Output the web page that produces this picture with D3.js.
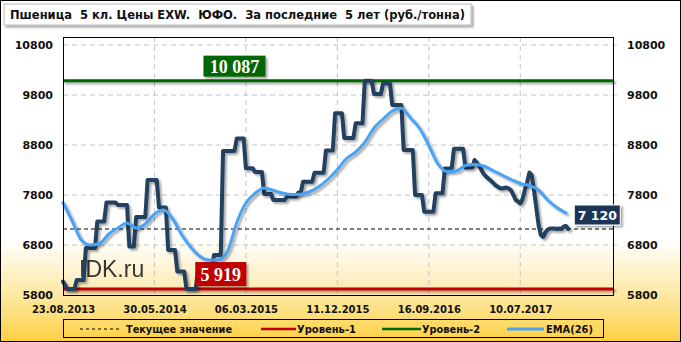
<!DOCTYPE html>
<html><head><meta charset="utf-8">
<script src="https://cdn.jsdelivr.net/npm/d3@7"></script>
<style>html,body{margin:0;padding:0;background:#fff;}svg{display:block;}</style>
</head><body>
<svg id="c" width="681" height="342"></svg>
<script>
const title = "Пшеница  5 кл. Цены EXW.  ЮФО.  За последние  5 лет (руб./тонна)";
const xTickIndex = [0, 40, 80, 120, 160, 200];
const xTickLabels = ["23.08.2013", "30.05.2014", "06.03.2015", "11.12.2015", "16.09.2016", "10.07.2017"];
const yTicks = [5800, 6800, 7800, 8800, 9800, 10800];
// weekly prices (руб./тонна)
const price = [
 6070,5990,5919,5919,5919,5919,6100,6100,6100,6100,
 6740,6740,6740,6740,6740,7270,7270,7270,7270,7650,
 7650,7650,7650,7650,7600,7600,7600,7600,7600,6770,
 6770,6770,7360,7360,7360,7360,7360,8100,8100,8100,
 8100,8100,7550,7550,7550,7550,6700,6700,6700,6700,
 6270,6270,6270,6270,5919,5919,5919,5919,5919,6270,
 6270,6270,6270,6270,6270,6270,6600,6600,6600,6600,
 8680,8680,8680,8680,8680,8680,8930,8930,8930,8930,
 8333,8333,8333,8333,8260,8260,8260,8260,7820,7820,
 7820,7820,7700,7700,7700,7700,7700,7700,7770,7770,
 7770,7770,7770,7850,7850,8067,8067,8067,8067,8067,
 8247,8247,8247,8247,8247,8690,8690,8690,8690,9433,
 9433,9433,9433,8940,8940,8940,8940,8940,9233,9233,
 9233,9233,10087,10087,10087,10087,9820,9820,9820,9820,
 10030,10030,10030,10030,9600,9600,9600,9600,9600,8700,
 8700,8700,8700,8700,7800,7800,7800,7800,7467,7467,
 7467,7467,7467,7833,7833,7833,7833,8330,8330,8330,
 8330,8725,8725,8725,8725,8725,8350,8350,8350,8350,
 8500,8450,8380,8300,8220,8170,8130,8090,8050,8000,
 7970,7940,7930,7940,7950,7930,7890,7800,7700,7670,
 7630,7720,7900,8050,8250,8200,7900,7550,7200,7000,
 6960,7050,7110,7130,7130,7130,7120,7130,7120,7170,
 7180,7120
];
// EMA(26), read every 4 weeks
const emaWeek = [0,4,8,12,16,20,24,28,32,36,40,44,48,52,56,60,64,68,72,76,80,84,88,92,96,100,104,108,112,116,120,124,128,132,136,140,144,148,152,156,160,164,168,172,176,180,184,188,192,196,200,204,208,212,216,220];
const emaValue = [7650,7280,6900,6800,6830,7020,7140,7240,7140,7220,7420,7500,7320,7000,6750,6570,6500,6500,6680,7250,7640,7833,7940,7890,7840,7810,7815,7870,7970,8120,8310,8530,8660,8850,9140,9320,9480,9535,9340,9130,8790,8420,8270,8280,8390,8410,8380,8290,8200,8110,8030,7990,7900,7700,7550,7440];
const level1 = 5919, level2 = 10087, current = 7120;
const legendLabels = ["Текущее значение", "Уровень-1", "Уровень-2", "EMA(26)"];

const svg = d3.select("#c");
const W = 681, H = 342;
const L = 63, R = 614, T = 37, B = 295;
const x = d3.scaleLinear().domain([0, 241]).range([L, R]);
const y = d3.scaleLinear().domain([5800, 10960]).range([B, T]);

const defs = svg.append("defs");
const bg = defs.append("linearGradient").attr("id","bg").attr("x1",0).attr("y1",0).attr("x2",0).attr("y2",1);
bg.append("stop").attr("offset",0).attr("stop-color","#ffffff");
bg.append("stop").attr("offset",0.70).attr("stop-color","#ffffff");
bg.append("stop").attr("offset",0.86).attr("stop-color","#fee9a4");
bg.append("stop").attr("offset",1).attr("stop-color","#fdd042");
const pg = defs.append("linearGradient").attr("id","pg").attr("x1",0).attr("y1",0).attr("x2",0).attr("y2",1);
pg.append("stop").attr("offset",0).attr("stop-color","#ffffff");
pg.append("stop").attr("offset",0.78).attr("stop-color","#ffffff");
pg.append("stop").attr("offset",1).attr("stop-color","#fde9ad");
const sh = defs.append("filter").attr("id","sh").attr("filterUnits","userSpaceOnUse")
  .attr("x",0).attr("y",0).attr("width",W).attr("height",H);
sh.append("feDropShadow").attr("dx",2).attr("dy",2).attr("stdDeviation",1.3).attr("flood-color","#000").attr("flood-opacity",0.35);

svg.append("rect").attr("x",0).attr("y",0).attr("width",W).attr("height",H).attr("fill","url(#bg)");
svg.append("rect").attr("x",0.5).attr("y",0.5).attr("width",W-1).attr("height",H-1).attr("fill","none").attr("stroke","#000");

// title
svg.append("rect").attr("x",4).attr("y",4).attr("width",467).attr("height",21)
  .attr("fill","#fff").attr("stroke","#bbb").attr("filter","url(#sh)");
svg.append("text").attr("x",10).attr("y",19).attr("font-family","DejaVu Sans, sans-serif")
  .attr("font-size",11.5).attr("font-weight","bold").attr("fill","#111")
  .attr("textLength",455).attr("lengthAdjust","spacingAndGlyphs").attr("xml:space","preserve").text(title);

// plot background
svg.append("rect").attr("x",L).attr("y",T).attr("width",R-L).attr("height",B-T).attr("fill","url(#pg)");

// grid
const g = svg.append("g");
g.selectAll(".hg").data(yTicks.filter(d=>d>5800)).enter().append("line")
  .attr("x1",L).attr("x2",R+4).attr("y1",d=>y(d)).attr("y2",d=>y(d))
  .attr("stroke","#c4c4c4").attr("stroke-dasharray","5,4");
g.selectAll(".vg").data(xTickIndex.filter(d=>d>0)).enter().append("line")
  .attr("x1",d=>x(d)).attr("x2",d=>x(d)).attr("y1",T).attr("y2",B)
  .attr("stroke","#c4c4c4").attr("stroke-dasharray","5,4");

// axes labels
const yl = d3.axisLeft(y).tickValues(yTicks).tickSize(0).tickPadding(10).tickFormat(d3.format("d"));
const yr = d3.axisRight(y).tickValues(yTicks).tickSize(0).tickPadding(13).tickFormat(d3.format("d"));
const xa = d3.axisBottom(x).tickValues(xTickIndex).tickSize(0).tickPadding(11).tickFormat((d,i)=>xTickLabels[i]);
function styleAxis(sel, size){
  sel.select(".domain").remove();
  sel.selectAll("text").attr("font-family","DejaVu Sans, sans-serif").attr("font-weight","bold")
    .attr("font-size",size).attr("fill","#111");
}
svg.append("g").attr("transform",`translate(${L},0)`).call(yl).call(s=>styleAxis(s,11));
svg.append("g").attr("transform",`translate(${R},0)`).call(yr).call(s=>styleAxis(s,11));
svg.append("g").attr("transform",`translate(0,${B})`).call(xa).call(s=>styleAxis(s,10));

// watermark
svg.append("text").attr("x",79).attr("y",277).attr("font-family","Liberation Sans, Arial, sans-serif")
  .attr("font-size",23).attr("fill","#222").attr("opacity",0.9).text("IDK.ru");

// levels
svg.append("line").attr("x1",L).attr("x2",R).attr("y1",y(level1)).attr("y2",y(level1))
  .attr("stroke","#c00000").attr("stroke-width",3).attr("filter","url(#sh)");
svg.append("line").attr("x1",L).attr("x2",R).attr("y1",y(level2)).attr("y2",y(level2))
  .attr("stroke","#006600").attr("stroke-width",3).attr("filter","url(#sh)");
svg.append("line").attr("x1",L).attr("x2",R).attr("y1",y(current)).attr("y2",y(current))
  .attr("stroke","#000").attr("stroke-width",1).attr("stroke-dasharray","4,3");

// price line
const line = d3.line().x((d,i)=>x(i)).y(d=>y(d));
svg.append("path").datum(price).attr("d",line).attr("fill","none")
  .attr("stroke","#243f60").attr("stroke-width",4).attr("stroke-linejoin","round").attr("stroke-linecap","round")
  .attr("filter","url(#sh)");
// EMA
const emaLine = d3.line().x((d,i)=>x(emaWeek[i])).y(d=>y(d)).curve(d3.curveMonotoneX);
svg.append("path").datum(emaValue).attr("d",emaLine).attr("fill","none")
  .attr("stroke","#47a3f3").attr("stroke-width",3).attr("stroke-linejoin","round").attr("stroke-linecap","round")
  .attr("filter","url(#sh)");

// plot border
svg.append("rect").attr("x",L+0.5).attr("y",T+0.5).attr("width",R-L-1).attr("height",B-T).attr("fill","none").attr("stroke","#000");

// value labels
function valueLabel(cx, top, w, h, fill, txt, font, size, border){
  const gg = svg.append("g");
  gg.append("rect").attr("x",cx-w/2).attr("y",top).attr("width",w).attr("height",h).attr("fill",fill)
    .attr("stroke",border||"none").attr("filter","url(#sh)");
  gg.append("text").attr("x",cx).attr("y",top+h/2).attr("dy","0.36em").attr("text-anchor","middle")
    .attr("font-family",font).attr("font-weight","bold").attr("font-size",size).attr("fill","#fff").text(txt);
}
const fmt = v => d3.format(",")(v).replace(/,/g," ");
valueLabel(x(75), y(level2)-25, 62, 21, "#006600", fmt(level2), "Liberation Serif, Times New Roman, serif", 18);
valueLabel(x(69), y(level1)-27, 51, 24, "#c00000", fmt(level1), "Liberation Serif, Times New Roman, serif", 18);
valueLabel(x(price.length-1)+29, y(current)-24, 46, 20, "#1c3557", fmt(current), "DejaVu Sans, sans-serif", 12.5, "#fff");

// legend
svg.append("rect").attr("x",63.5).attr("y",319.5).attr("width",540).attr("height",18).attr("fill","none").attr("stroke","#000");
const ly = 329;
const leg = [
  {x1:80,x2:122,tx:126,tw:106,color:"#000",dash:"3,3",w:1},
  {x1:261,x2:296,tx:297,tw:59,color:"#c00000",dash:null,w:2.5},
  {x1:382,x2:421,tx:422,tw:58,color:"#006600",dash:null,w:2.5},
  {x1:507,x2:544,tx:546,tw:47,color:"#47a3f3",dash:null,w:3}
];
leg.forEach((d,i)=>{
  svg.append("line").attr("x1",d.x1).attr("x2",d.x2).attr("y1",ly).attr("y2",ly).attr("stroke",d.color)
    .attr("stroke-width",d.w).attr("stroke-dasharray",d.dash);
  svg.append("text").attr("x",d.tx).attr("y",ly).attr("dy","0.35em").attr("font-family","DejaVu Sans, sans-serif")
    .attr("font-size",10).attr("font-weight","bold").attr("fill","#111")
    .attr("textLength",d.tw).attr("lengthAdjust","spacingAndGlyphs").text(legendLabels[i]);
});
</script>
</body></html>
